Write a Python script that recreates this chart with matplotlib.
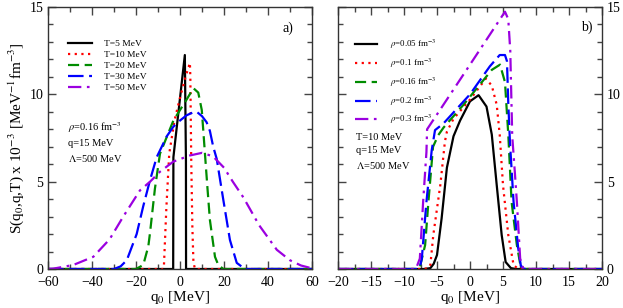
import numpy as np
import matplotlib.pyplot as plt
from matplotlib.ticker import MultipleLocator

plt.rcParams['font.family'] = ['Liberation Serif', 'DejaVu Serif']
plt.rcParams['mathtext.fontset'] = 'stix'

# panel a) : different temperatures, rho = 0.16 fm^-3
q0_T5 = [-60, -3.1, -3.0, 2.2, 2.7, 2.75, 60]
S_T5 = [0, 0, 6.4, 12.25, 6.2, 0, 0]

q0_T10 = [-60, -7.5, -7.3, -6.2, -4.9, -2.5, 0, 2.5, 4.5, 4.7, 5.1, 5.6, 6.1, 6.8, 60]
S_T10 = [0, 0, 0.2, 3.5, 6.6, 8.5, 9.8, 11.0, 11.8, 11.0, 6.3, 2.5, 0.4, 0, 0]

q0_T20 = [-60, -20, -16.7, -14.4, -13.6, -11.4, -9.1, -3, 0, 3, 6.1, 8.3, 9.9, 10.6,
          11.4, 12.5, 13.6, 15.9, 17.4, 19.7, 60]
S_T20 = [0, 0, 0.23, 1.3, 2.1, 4.6, 6.6, 8.5, 9.1, 9.7, 10.35, 10.1, 9.1, 7.9,
         6.5, 4.6, 2.8, 0.7, 0.23, 0, 0]

q0_T30 = [-60, -30, -27, -24.2, -19.7, -16.7, -13.6, -10.6, -6, -3, 0, 3, 6, 7.6, 10,
          12.1, 13.6, 15.1, 16.7, 19.7, 22.7, 25.8, 29.5, 60]
S_T30 = [0, 0, 0.15, 0.5, 2.0, 3.6, 5.1, 6.4, 7.6, 8.15, 8.5, 8.8, 8.97, 9.0, 8.75,
         8.4, 7.9, 7.0, 6.3, 3.95, 1.66, 0.35, 0, 0]

q0_T50 = [-60, -57.6, -48.5, -39.4, -32, -25.8, -18.2, -13.6, -9.1, -3, 4.5, 10, 15,
          20, 24, 28.8, 36, 44, 50, 55, 59, 60]
S_T50 = [0, 0.02, 0.23, 0.7, 1.7, 3.0, 4.5, 5.0, 5.57, 6.15, 6.5, 6.65, 6.45,
         5.8, 5.0, 4.1, 2.5, 1.1, 0.5, 0.2, 0.07, 0.05]

# panel b) : different densities, T = 10 MeV
q0_r005 = [-20, -7, -6.0, -5.5, -5.0, -4.3, -3.5, -2.5, -1.5, 0, 1.3, 2.5, 3.3, 4.05,
           4.8, 5.4, 6.2, 7, 20]
S_r005 = [0, 0, 0.05, 0.3, 0.8, 2.9, 5.8, 7.6, 8.5, 9.6, 9.95, 9.3, 7.7, 4.8,
          1.95, 0.4, 0.05, 0, 0]

q0_r01 = [-20, -7, -6.3, -6.0, -5.56, -4.5, -3.8, -3.5, -2.5, 0, 2.4, 3.3, 4.05, 4.5,
          5.0, 5.8, 6.6, 7.3, 20]
S_r01 = [0, 0, 0.05, 0.25, 1.95, 4.8, 7.3, 7.86, 8.6, 9.7, 10.9, 10.5, 9.4, 7.7,
         4.8, 1.95, 0.23, 0, 0]

q0_r016 = [-20, -8, -7.6, -6.8, -6.3, -5.6, -4.8, -4.0, -1.0, 3.3, 4.55, 5.3, 5.8,
           6.3, 7.1, 7.6, 8.1, 20]
S_r016 = [0, 0, 0.1, 1.37, 3.85, 7.0, 7.67, 8.1, 9.4, 11.4, 11.7, 10.7, 7.7,
          3.85, 1.37, 0.3, 0, 0]

q0_r02 = [-20, -8, -7.6, -7.3, -6.6, -5.8, -5.3, -4.0, 0, 3.0, 4.5, 5.3, 5.6, 5.8,
          6.06, 6.6, 7.3, 7.7, 8.2, 20]
S_r02 = [0, 0, 0.1, 0.6, 3.85, 6.8, 7.95, 8.34, 10.0, 11.6, 12.25, 12.25, 11.9, 9.5,
         7.2, 3.85, 1.2, 0.2, 0, 0]

q0_r03 = [-20, -8.2, -7.6, -7.1, -6.6, -6.5, -5.0, 0, 5.3, 5.8, 6.1, 6.4, 6.8, 7.1,
          7.6, 8.1, 20]
S_r03 = [0, 0, 0.6, 3.85, 6.7, 8.0, 8.85, 11.7, 14.73, 14.3, 12.5, 7.6, 5.5, 3.85,
         0.6, 0, 0]

labels_T = ['T=5 MeV', 'T=10 MeV', 'T=20 MeV', 'T=30 MeV', 'T=50 MeV']
labels_rho = [r'$\rho$=0.05 fm$^{-3}$', r'$\rho$=0.1 fm$^{-3}$', r'$\rho$=0.16 fm$^{-3}$',
              r'$\rho$=0.2 fm$^{-3}$', r'$\rho$=0.3 fm$^{-3}$']

colors = ['black', '#ff0000', '#008c00', '#0000ff', '#9b00e0']
styles = ['-', (0, (1, 2)), (0, (5, 2.5)), (0, (7, 2.5)), (0, (6, 2.5, 1.2, 2.5))]

fig = plt.figure(figsize=(6.23, 3.08), dpi=100)
ax1 = fig.add_axes([48 / 623, 39 / 308, 264 / 623, 262 / 308])
ax2 = fig.add_axes([338 / 623, 39 / 308, 264 / 623, 262 / 308])

left_data = [(q0_T5, S_T5), (q0_T10, S_T10), (q0_T20, S_T20), (q0_T30, S_T30), (q0_T50, S_T50)]
right_data = [(q0_r005, S_r005), (q0_r01, S_r01), (q0_r016, S_r016), (q0_r02, S_r02), (q0_r03, S_r03)]

for (x, y), c, ls, lab in zip(left_data, colors, styles, labels_T):
    ax1.plot(x, y, color=c, linestyle=ls, lw=1.6, label=lab)
for (x, y), c, ls, lab in zip(right_data, colors, styles, labels_rho):
    ax2.plot(x, y, color=c, linestyle=ls, lw=1.6, label=lab)

ax1.set_xlim(-60, 60)
ax2.set_xlim(-20, 20)
ax1.xaxis.set_major_locator(MultipleLocator(20))
ax1.xaxis.set_minor_locator(MultipleLocator(10))
ax2.xaxis.set_major_locator(MultipleLocator(5))
ax2.xaxis.set_minor_locator(MultipleLocator(2.5))

for ax in (ax1, ax2):
    ax.set_ylim(0, 15)
    ax.yaxis.set_major_locator(MultipleLocator(5))
    ax.yaxis.set_minor_locator(MultipleLocator(1))
    ax.tick_params(which='both', direction='in', top=True, right=True, labelsize=10)
    ax.tick_params(axis='x', pad=5)
    ax.tick_params(which='major', length=6, width=1, color='#444444')
    ax.tick_params(which='minor', length=3.5, width=1, color='#444444')
    for sp in ax.spines.values():
        sp.set_linewidth(1.0)
        sp.set_color('#333333')
    ax.set_xlabel(r'q$_0$ [MeV]', fontsize=11, labelpad=0)

ax2.tick_params(axis='y', labelleft=False, labelright=True)

ax1.set_ylabel(r'S(q$_0$,q,T) x 10$^{-3}$ [MeV$^{-1}$fm$^{-3}$]', fontsize=11, labelpad=2)

ax1.legend(loc='upper left', bbox_to_anchor=(0.06, 0.89), frameon=False, fontsize=6.8,
           handlelength=2.6, handletextpad=1.2, labelspacing=0.25, borderaxespad=0)
ax2.legend(loc='upper left', bbox_to_anchor=(0.05, 0.895), frameon=False, fontsize=6.4,
           handlelength=2.5, handletextpad=1.5, labelspacing=0.6, borderaxespad=0)

ax1.text(0.075, 0.57, '$\\rho$=0.16 fm$^{-3}$\nq=15 MeV\n$\\Lambda$=500 MeV', transform=ax1.transAxes,
         fontsize=7.5, va='top', linespacing=1.6)
ax2.text(0.07, 0.52, 'T=10 MeV\nq=15 MeV\n$\\Lambda$=500 MeV', transform=ax2.transAxes,
         fontsize=7.5, va='top', linespacing=1.6)
ax1.text(0.89, 0.905, 'a)', transform=ax1.transAxes, fontsize=10)
ax2.text(0.92, 0.91, 'b)', transform=ax2.transAxes, fontsize=10)

fig.savefig('out.png', dpi=100)
